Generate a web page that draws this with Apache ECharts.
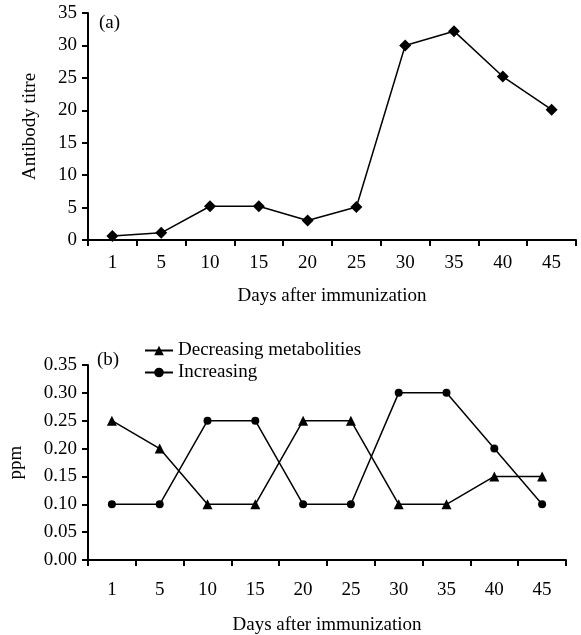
<!DOCTYPE html>
<html>
<head>
<meta charset="utf-8">
<script src="https://cdn.jsdelivr.net/npm/echarts@6/dist/echarts.min.js"></script>
<style>
  html, body { margin: 0; padding: 0; background: #fff; }
  #chart { width: 581px; height: 635px; }
</style>
</head>
<body>
<div id="chart"></div>
<script>
// Days after immunization (shared category axis)
const days = ['1', '5', '10', '15', '20', '25', '30', '35', '40', '45'];
// (a) antibody titre
const antibodyTitre = [0.6, 1.1, 5.2, 5.2, 3.0, 5.1, 30.0, 32.2, 25.2, 20.1];
// (b) metabolite levels, ppm
const decreasingMetabolites = [0.25, 0.20, 0.10, 0.10, 0.25, 0.25, 0.10, 0.10, 0.15, 0.15];
const increasingMetabolites = [0.10, 0.10, 0.25, 0.25, 0.10, 0.10, 0.30, 0.30, 0.20, 0.10];

const FONT = '"Liberation Serif", "Times New Roman", serif';
const txt = { color: '#000', fontFamily: FONT, fontSize: 19 };
const axisLine = { show: true, lineStyle: { color: '#000', width: 2 } };
const axisTick = { show: true, inside: false, length: 6, lineStyle: { color: '#000', width: 2 } };

function xAxis(gridIndex, margin, nameGap) {
  return {
    type: 'category', gridIndex, data: days, boundaryGap: true,
    axisLine, axisTick, splitLine: { show: false },
    axisLabel: Object.assign({ margin }, txt),
    name: 'Days after immunization', nameLocation: 'middle', nameGap,
    nameTextStyle: Object.assign({}, txt)
  };
}

const chart = echarts.init(document.getElementById('chart'), null, { renderer: 'canvas' });
chart.setOption({
  backgroundColor: '#fff',
  animation: false,
  title: [
    { text: '(a)', left: 94, top: 9, textStyle: Object.assign({}, txt, { fontWeight: 'normal' }) },
    { text: '(b)', left: 92, top: 346, textStyle: Object.assign({}, txt, { fontWeight: 'normal' }) }
  ],
  legend: {
    data: ['Decreasing metabolities', 'Increasing'],
    orient: 'vertical', left: 139, top: 336,
    itemWidth: 28, itemHeight: 12, itemGap: 3,
    textStyle: Object.assign({}, txt),
    inactiveColor: '#000'
  },
  grid: [
    { left: 88, top: 13, width: 488, height: 227, containLabel: false, outerBoundsMode: 'none' },
    { left: 88, top: 365, width: 478, height: 195, containLabel: false, outerBoundsMode: 'none' }
  ],
  xAxis: [xAxis(0, 14, 47), xAxis(1, 21, 56)],
  yAxis: [
    {
      type: 'value', gridIndex: 0, min: 0, max: 35, interval: 5,
      axisLine, axisTick, splitLine: { show: false },
      axisLabel: Object.assign({ margin: 11 }, txt),
      name: 'Antibody titre', nameLocation: 'middle', nameGap: 48,
      nameTextStyle: Object.assign({}, txt)
    },
    {
      type: 'value', gridIndex: 1, min: 0, max: 0.35, interval: 0.05,
      axisLine, axisTick, splitLine: { show: false },
      axisLabel: Object.assign({ margin: 11, formatter: v => v.toFixed(2) }, txt),
      name: 'ppm', nameLocation: 'middle', nameGap: 62,
      nameTextStyle: Object.assign({}, txt)
    }
  ],
  series: [
    {
      name: 'Antibody titre', type: 'line', xAxisIndex: 0, yAxisIndex: 0,
      data: antibodyTitre, symbol: 'diamond', symbolSize: 12,
      itemStyle: { color: '#000' }, lineStyle: { color: '#000', width: 1.5 }
    },
    {
      name: 'Decreasing metabolities', type: 'line', xAxisIndex: 1, yAxisIndex: 1,
      data: decreasingMetabolites, symbol: 'triangle', symbolSize: 10,
      itemStyle: { color: '#000' }, lineStyle: { color: '#000', width: 1.5 }
    },
    {
      name: 'Increasing', type: 'line', xAxisIndex: 1, yAxisIndex: 1,
      data: increasingMetabolites, symbol: 'circle', symbolSize: 8,
      itemStyle: { color: '#000' }, lineStyle: { color: '#000', width: 1.5 }
    }
  ]
});
</script>
</body>
</html>
